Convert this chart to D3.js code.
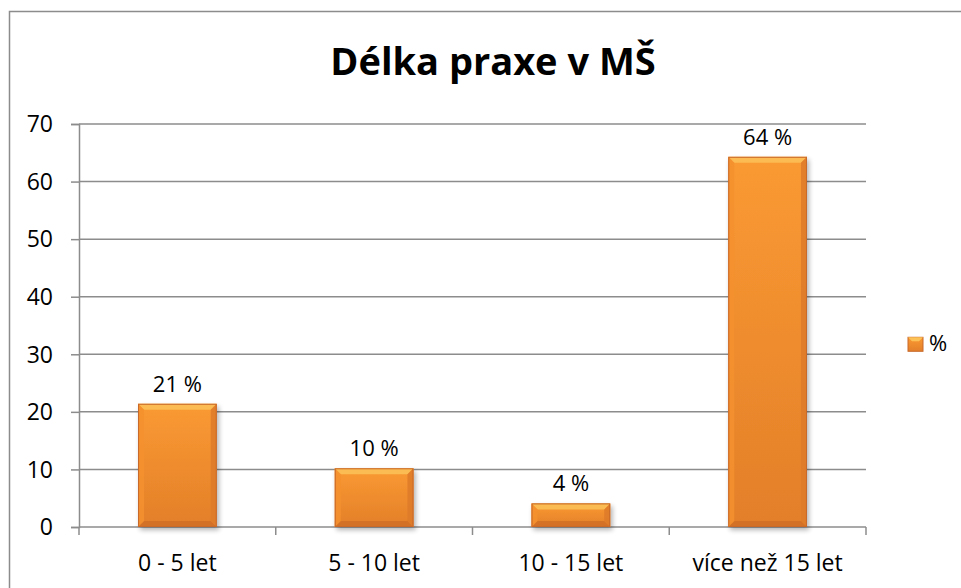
<!DOCTYPE html>
<html>
<head>
<meta charset="utf-8">
<script src="https://cdn.jsdelivr.net/npm/d3@7"></script>
<style>
  body { margin: 0; background: #fff; }
  svg { display: block; font-family: "Open Sans", sans-serif; }
</style>
</head>
<body>
<svg width="961" height="588"></svg>
<script>
// chart data
var categories = ['0 - 5 let', '5 - 10 let', '10 - 15 let', 'více než 15 let']
var values = [21.4, 10.2, 4.1, 64.3]
var yTicks = [0, 10, 20, 30, 40, 50, 60, 70]
var seriesName = '%'
var title = 'Délka praxe v MŠ'

var svg = d3.select('svg'),
    margin = {left: 79, right: 95, top: 124, bottom: 61},
    width = 961, height = 588,
    bevel = 6

var data = categories.map((c, i) => ({cat: c, value: values[i]}))

var x = d3.scaleBand()
    .domain(categories)
    .range([margin.left, width - margin.right])
    .paddingInner(0.6)
    .paddingOuter(0.3)

var y = d3.scaleLinear()
    .domain([0, 70])
    .range([height - margin.bottom, margin.top])

var defs = svg.append('defs')
var grad = defs.append('linearGradient').attr('id', 'face').attr('x1', 0).attr('y1', 0).attr('x2', 0).attr('y2', 1)
grad.append('stop').attr('offset', '0%').attr('stop-color', '#fa9a32')
grad.append('stop').attr('offset', '100%').attr('stop-color', '#e37f2a')

var shadow = defs.append('filter').attr('id', 'shadow').attr('x', '-20%').attr('y', '-20%').attr('width', '150%').attr('height', '150%')
shadow.append('feGaussianBlur').attr('in', 'SourceAlpha').attr('stdDeviation', 2.5)
shadow.append('feOffset').attr('dx', 2).attr('dy', 3).attr('result', 'b')
shadow.append('feComponentTransfer').append('feFuncA').attr('type', 'linear').attr('slope', 0.3)
var merge = shadow.append('feMerge')
merge.append('feMergeNode')
merge.append('feMergeNode').attr('in', 'SourceGraphic')

// outer border
svg.append('rect')
    .attr('x', 9.5).attr('y', 11.5)
    .attr('width', width).attr('height', height)
    .attr('fill', 'none').attr('stroke', '#8c8c8c').attr('stroke-width', 1.5)

svg.append('text')
    .attr('x', 493).attr('y', 75)
    .attr('text-anchor', 'middle')
    .style('font-size', '38px').style('font-weight', 'bold')
    .text(title)

// gridlines and y axis
var yAxis = d3.axisLeft(y).tickValues(yTicks).tickSize(8).tickPadding(18)
var gy = svg.append('g').attr('transform', `translate(${margin.left},0)`).call(yAxis)
    .attr('font-family', null).attr('font-size', null)
gy.select('.domain').attr('stroke', '#8c8c8c').attr('stroke-width', 1.5)
gy.selectAll('.tick line').attr('stroke', '#8c8c8c').attr('stroke-width', 1.5)
gy.selectAll('.tick text').style('font-size', '23px').attr('fill', '#000').attr('dy', '0.34em')

svg.append('g').selectAll('line')
    .data(yTicks.slice(1))
    .enter().append('line')
    .attr('x1', margin.left).attr('x2', width - margin.right)
    .attr('y1', d => y(d)).attr('y2', d => y(d))
    .attr('stroke', '#8c8c8c').attr('stroke-width', 1.5)

// x axis
var boundaries = d3.range(categories.length + 1).map(i => margin.left + i * (width - margin.left - margin.right) / categories.length)
var gx = svg.append('g')
gx.append('line')
    .attr('x1', margin.left).attr('x2', width - margin.right)
    .attr('y1', y(0)).attr('y2', y(0))
    .attr('stroke', '#8c8c8c').attr('stroke-width', 1.5)
gx.selectAll('.tk').data(boundaries).enter().append('line')
    .attr('x1', d => d).attr('x2', d => d)
    .attr('y1', y(0)).attr('y2', y(0) + 8)
    .attr('stroke', '#8c8c8c').attr('stroke-width', 1.5)
gx.selectAll('text').data(categories).enter().append('text')
    .attr('x', d => x(d) + x.bandwidth() / 2)
    .attr('y', y(0) + 44)
    .attr('text-anchor', 'middle')
    .style('font-size', '23px')
    .text(d => d)

// bars with bevel
var bars = svg.append('g').selectAll('g')
    .data(data)
    .enter().append('g')
    .attr('filter', 'url(#shadow)')

bars.append('rect')
    .attr('x', d => x(d.cat))
    .attr('y', d => y(d.value))
    .attr('width', x.bandwidth())
    .attr('height', d => y(0) - y(d.value))
    .attr('fill', 'url(#face)')

function bevelPath(d, side) {
    var x0 = x(d.cat), x1 = x0 + x.bandwidth(), y0 = y(d.value), y1 = y(0)
    var b = Math.min(bevel, (y1 - y0) / 2)
    if (side == 'top') return `M${x0},${y0}L${x1},${y0}L${x1 - b},${y0 + b}L${x0 + b},${y0 + b}Z`
    if (side == 'bottom') return `M${x0},${y1}L${x1},${y1}L${x1 - b},${y1 - b}L${x0 + b},${y1 - b}Z`
    if (side == 'left') return `M${x0},${y0}L${x0 + b},${y0 + b}L${x0 + b},${y1 - b}L${x0},${y1}Z`
    return `M${x1},${y0}L${x1 - b},${y0 + b}L${x1 - b},${y1 - b}L${x1},${y1}Z`
}
var bevelColors = {top: '#fcc258', bottom: '#d06f26', left: '#f4912f', right: '#dd7a2b'}
;['top', 'bottom', 'left', 'right'].forEach(s => {
    bars.append('path')
        .attr('d', d => bevelPath(d, s))
        .attr('fill', bevelColors[s])
        .attr('opacity', 0.85)
})
bars.append('rect')
    .attr('x', d => x(d.cat) + 0.5)
    .attr('y', d => y(d.value) + 0.5)
    .attr('width', x.bandwidth() - 1)
    .attr('height', d => y(0) - y(d.value) - 1)
    .attr('fill', 'none')
    .attr('stroke', '#c8692a').attr('stroke-width', 1)

// value labels
svg.append('g').selectAll('text')
    .data(data)
    .enter().append('text')
    .attr('x', d => x(d.cat) + x.bandwidth() / 2)
    .attr('y', d => y(d.value) - 12)
    .attr('text-anchor', 'middle')
    .style('font-size', '22px')
    .text(d => Math.round(d.value) + ' %')

// legend
var lg = svg.append('g').attr('transform', `translate(908,${y(30) - 17})`)
lg.append('rect').attr('width', 15).attr('height', 14).attr('fill', 'url(#face)').attr('stroke', '#c8692a')
lg.append('path').attr('d', 'M0,0L15,0L11,4L4,4Z').attr('fill', '#fcc258')
lg.append('text').attr('x', 21).attr('y', 14).style('font-size', '22px').text(seriesName)
</script>
</body>
</html>
